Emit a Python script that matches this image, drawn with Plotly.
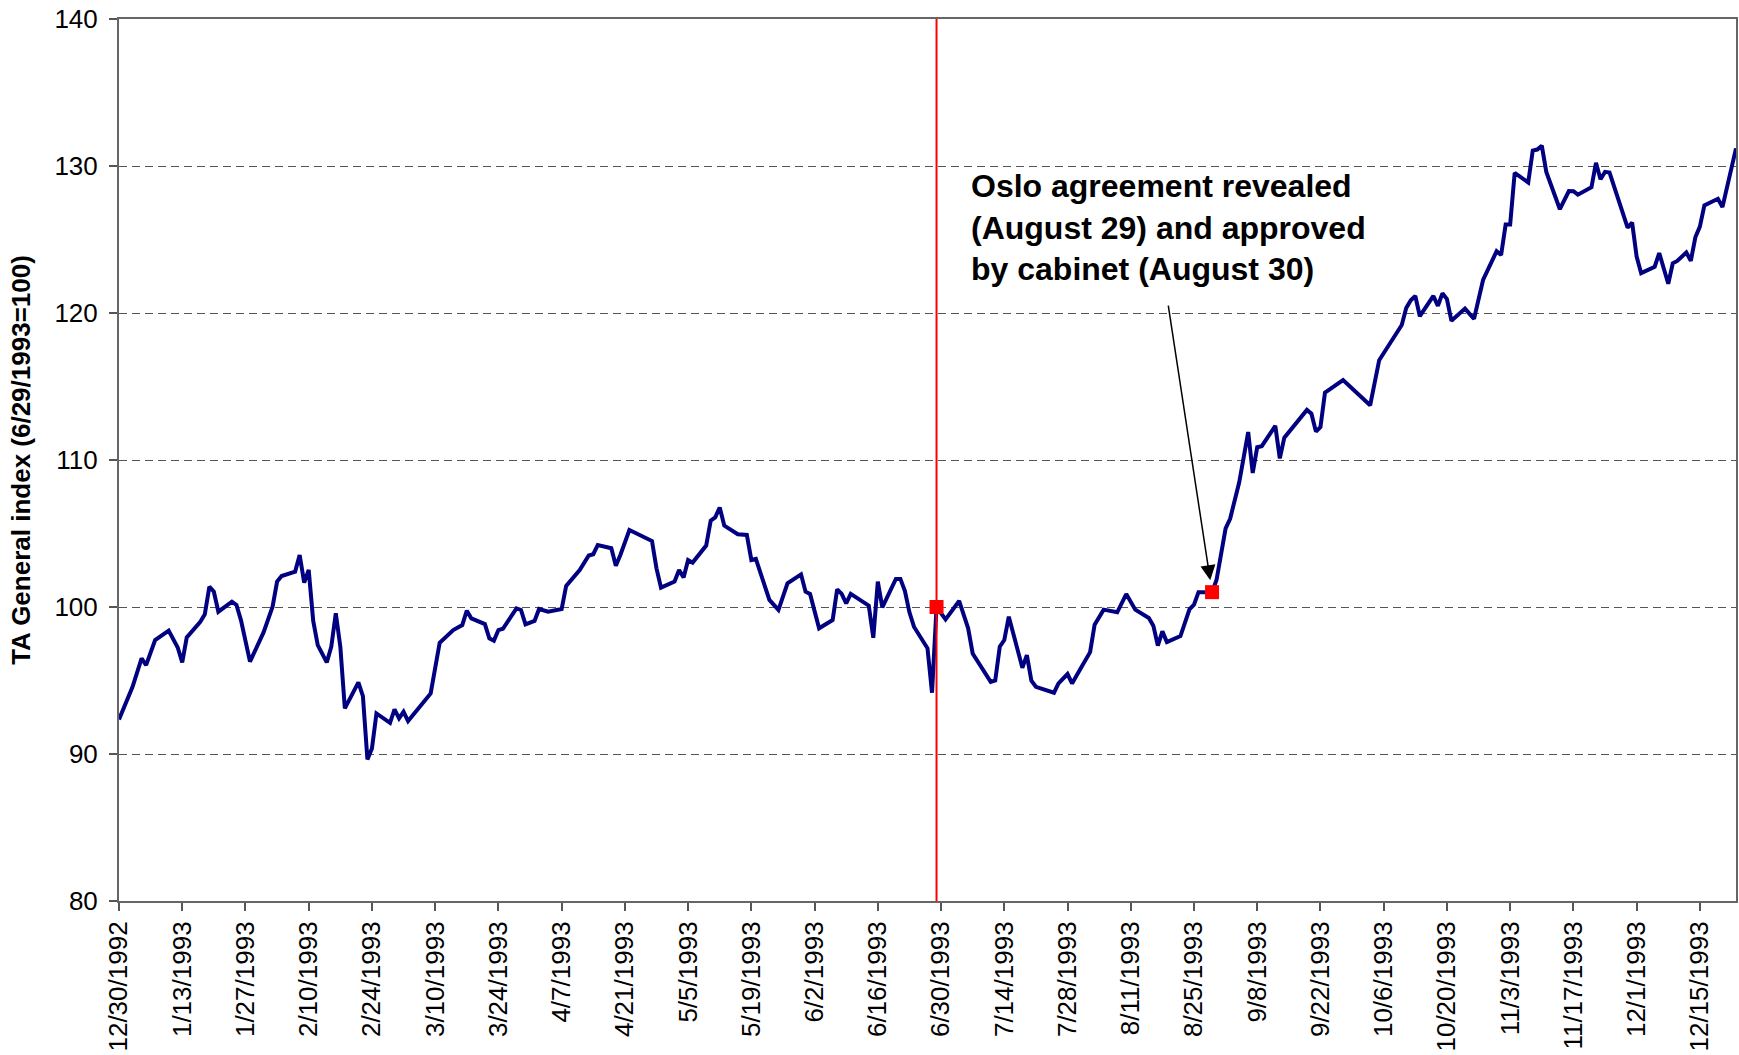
import plotly.graph_objects as go

# ---- data ----
dates = [
    "1992-12-30", "1993-01-02", "1993-01-04", "1993-01-05", "1993-01-07", "1993-01-10",
    "1993-01-12", "1993-01-13", "1993-01-14", "1993-01-17", "1993-01-18", "1993-01-19",
    "1993-01-20", "1993-01-21", "1993-01-24", "1993-01-25", "1993-01-26", "1993-01-28",
    "1993-01-31", "1993-02-02", "1993-02-03", "1993-02-04", "1993-02-07", "1993-02-08",
    "1993-02-09", "1993-02-10", "1993-02-11", "1993-02-12", "1993-02-14", "1993-02-15",
    "1993-02-16", "1993-02-17", "1993-02-18", "1993-02-21", "1993-02-22", "1993-02-23",
    "1993-02-24", "1993-02-25", "1993-02-28", "1993-03-01", "1993-03-02", "1993-03-03",
    "1993-03-04", "1993-03-09", "1993-03-11", "1993-03-14", "1993-03-16", "1993-03-17",
    "1993-03-18", "1993-03-21", "1993-03-22", "1993-03-23", "1993-03-24", "1993-03-25",
    "1993-03-28", "1993-03-29", "1993-03-30", "1993-04-01", "1993-04-02", "1993-04-04",
    "1993-04-07", "1993-04-08", "1993-04-11", "1993-04-13", "1993-04-14", "1993-04-15",
    "1993-04-18", "1993-04-19", "1993-04-20", "1993-04-22", "1993-04-27", "1993-04-28",
    "1993-04-29", "1993-05-02", "1993-05-03", "1993-05-04", "1993-05-05", "1993-05-06",
    "1993-05-09", "1993-05-10", "1993-05-11", "1993-05-12", "1993-05-13", "1993-05-16",
    "1993-05-18", "1993-05-19", "1993-05-20", "1993-05-23", "1993-05-25", "1993-05-27",
    "1993-05-30", "1993-05-31", "1993-06-01", "1993-06-02", "1993-06-03", "1993-06-06",
    "1993-06-07", "1993-06-08", "1993-06-09", "1993-06-10", "1993-06-14", "1993-06-15",
    "1993-06-16", "1993-06-17", "1993-06-20", "1993-06-21", "1993-06-22", "1993-06-23",
    "1993-06-24", "1993-06-27", "1993-06-28", "1993-06-29", "1993-07-01", "1993-07-04",
    "1993-07-06", "1993-07-07", "1993-07-11", "1993-07-12", "1993-07-13", "1993-07-14",
    "1993-07-15", "1993-07-18", "1993-07-19", "1993-07-20", "1993-07-21", "1993-07-25",
    "1993-07-26", "1993-07-28", "1993-07-29", "1993-07-31", "1993-08-02", "1993-08-03",
    "1993-08-05", "1993-08-08", "1993-08-10", "1993-08-12", "1993-08-15", "1993-08-16",
    "1993-08-17", "1993-08-18", "1993-08-19", "1993-08-22", "1993-08-24", "1993-08-25",
    "1993-08-26", "1993-08-28", "1993-08-29", "1993-08-30", "1993-09-01", "1993-09-02",
    "1993-09-04", "1993-09-06", "1993-09-07", "1993-09-08", "1993-09-09", "1993-09-12",
    "1993-09-13", "1993-09-14", "1993-09-19", "1993-09-20", "1993-09-21", "1993-09-22",
    "1993-09-23", "1993-09-27", "1993-10-03", "1993-10-05", "1993-10-10", "1993-10-11",
    "1993-10-12", "1993-10-13", "1993-10-14", "1993-10-17", "1993-10-18", "1993-10-19",
    "1993-10-20", "1993-10-21", "1993-10-24", "1993-10-26", "1993-10-27", "1993-10-28",
    "1993-10-31", "1993-11-01", "1993-11-02", "1993-11-03", "1993-11-04", "1993-11-07",
    "1993-11-08", "1993-11-09", "1993-11-10", "1993-11-11", "1993-11-14", "1993-11-16",
    "1993-11-17", "1993-11-18", "1993-11-21", "1993-11-22", "1993-11-23", "1993-11-24",
    "1993-11-25", "1993-11-29", "1993-11-30", "1993-12-01", "1993-12-02", "1993-12-05",
    "1993-12-06", "1993-12-08", "1993-12-09", "1993-12-10", "1993-12-12", "1993-12-13",
    "1993-12-14", "1993-12-15", "1993-12-16", "1993-12-19", "1993-12-20", "1993-12-22",
    "1993-12-23",
]

ta_index = [
    92.35, 94.57, 96.50, 96.05, 97.75, 98.39,
    97.25, 96.23, 97.93, 99.00, 99.50, 101.38,
    101.04, 99.68, 100.36, 100.14, 99.11, 96.28,
    98.27, 100.02, 101.73, 102.11, 102.41, 103.54,
    101.66, 102.52, 99.05, 97.41, 96.23, 97.30,
    99.57, 97.30, 93.10, 94.87, 93.94, 89.63,
    90.37, 92.76, 92.12, 93.03, 92.42, 92.87,
    92.24, 94.12, 97.57, 98.43, 98.77, 99.75,
    99.23, 98.84, 97.87, 97.71, 98.43, 98.52,
    99.91, 99.80, 98.82, 99.05, 99.86, 99.68,
    99.86, 101.43, 102.52, 103.50, 103.59, 104.22,
    104.00, 102.81, 103.54, 105.24, 104.49, 102.63,
    101.32, 101.73, 102.52, 102.00, 103.20, 103.02,
    104.18, 105.88, 106.10, 106.77, 105.54, 104.95,
    104.90, 103.20, 103.27, 100.48, 99.80, 101.61,
    102.22, 101.04, 100.89, 99.57, 98.55, 99.11,
    101.20, 100.89, 100.25, 100.89, 100.09, 97.91,
    101.73, 99.98, 101.91, 101.91, 101.09, 99.64,
    98.66, 97.19, 94.17, 100.00, 99.16, 100.41,
    98.55, 96.84, 94.91, 95.00, 97.30, 97.75,
    99.34, 95.87, 96.73, 94.98, 94.57, 94.17,
    94.80, 95.44, 94.80, 95.87, 96.93, 98.80,
    99.82, 99.64, 100.88, 99.82, 99.25, 98.73,
    97.37, 98.34, 97.61, 98.02, 99.84, 100.16,
    101.01, 101.01, 101.01, 101.85, 105.35, 106.00,
    108.47, 111.90, 109.12, 110.87, 110.94, 112.32,
    110.11, 111.52, 113.41, 113.15, 111.93, 112.24,
    114.58, 115.44, 113.72, 116.79, 119.18, 120.35,
    120.87, 121.16, 119.78, 121.16, 120.48, 121.34,
    120.95, 119.47, 120.30, 119.60, 121.08, 122.25,
    124.20, 123.94, 126.02, 126.02, 129.53, 128.88,
    131.05, 131.12, 131.38, 129.60, 127.06, 128.30,
    128.29, 128.05, 128.55, 130.22, 129.10, 129.60,
    129.55, 125.80, 126.15, 123.84, 122.71, 123.15,
    124.08, 121.99, 123.38, 123.54, 124.12, 123.55,
    125.15, 125.88, 127.32, 127.77, 127.20, 129.90,
    131.20,
]

tick_dates = [
    "1992-12-30", "1993-01-13", "1993-01-27", "1993-02-10", "1993-02-24", "1993-03-10",
    "1993-03-24", "1993-04-07", "1993-04-21", "1993-05-05", "1993-05-19", "1993-06-02",
    "1993-06-16", "1993-06-30", "1993-07-14", "1993-07-28", "1993-08-11", "1993-08-25",
    "1993-09-08", "1993-09-22", "1993-10-06", "1993-10-20", "1993-11-03", "1993-11-17",
    "1993-12-01", "1993-12-15",
]
tick_labels = [
    "12/30/1992", "1/13/1993", "1/27/1993", "2/10/1993", "2/24/1993", "3/10/1993",
    "3/24/1993", "4/7/1993", "4/21/1993", "5/5/1993", "5/19/1993", "6/2/1993",
    "6/16/1993", "6/30/1993", "7/14/1993", "7/28/1993", "8/11/1993", "8/25/1993",
    "9/8/1993", "9/22/1993", "10/6/1993", "10/20/1993", "11/3/1993", "11/17/1993",
    "12/1/1993", "12/15/1993",
]
y_ticks = [80, 90, 100, 110, 120, 130, 140]
x_range = ["1992-12-30", "1993-12-23"]

base_date = "1993-06-29"   # index base date (red vertical line)
oslo_date = "1993-08-29"   # Oslo agreement revealed
event_dates = [base_date, oslo_date]
event_values = [ta_index[dates.index(d)] for d in event_dates]

y_title = "TA General index (6/29/1993=100)"
note_text = "Oslo agreement revealed<br>(August 29) and approved<br>by cabinet (August 30)"

FONT = "Liberation Sans, Arial, Helvetica, sans-serif"

fig = go.Figure()
fig.add_trace(go.Scatter(
    x=dates, y=ta_index, mode="lines",
    line=dict(color="#000080", width=4),
    showlegend=False, hoverinfo="x+y",
))
fig.add_trace(go.Scatter(
    x=event_dates, y=event_values, mode="markers",
    marker=dict(symbol="square", size=14, color="#FF0000", line=dict(width=0)),
    showlegend=False,
))

fig.add_shape(type="line", xref="x", yref="paper",
              x0=base_date, x1=base_date, y0=0, y1=1,
              line=dict(color="#FF0000", width=2), layer="above")

# arrow pointing at the Oslo marker
fig.add_annotation(x=oslo_date, y=event_values[1], xref="x", yref="y",
                   text="", showarrow=True, ax=-44, ay=-288,
                   arrowhead=2, arrowsize=2, arrowwidth=1.5,
                   arrowcolor="black", standoff=12)
# text of the annotation
fig.add_annotation(xref="paper", yref="paper", x=0.5255, y=0.833,
                   xanchor="left", yanchor="top", align="left",
                   text=note_text, showarrow=False,
                   font=dict(family=FONT, size=32, color="black", weight="bold"))

fig.update_layout(
    width=1739, height=1055,
    margin=dict(l=119, r=1, t=19, b=154, pad=0),
    paper_bgcolor="white", plot_bgcolor="white",
    font=dict(family=FONT, size=26, color="black"),
    showlegend=False,
)
fig.update_xaxes(
    type="date", range=x_range,
    tickmode="array", tickvals=tick_dates, ticktext=tick_labels,
    tickangle=-90, ticks="outside", ticklen=8, tickwidth=1.5, tickcolor="#555555",
    showline=True, linecolor="#666666", linewidth=2, mirror=True,
    showgrid=False, zeroline=False,
    tickfont=dict(family=FONT, size=26, color="black"),
)
fig.update_yaxes(
    range=[80, 140], tickmode="array", tickvals=y_ticks,
    ticks="outside", ticklen=8, tickwidth=1.5, tickcolor="#555555",
    ticklabelstandoff=6,
    showline=True, linecolor="#666666", linewidth=2, mirror=True,
    showgrid=True, gridcolor="#555555", gridwidth=1.2, griddash="8px,5px",
    zeroline=False,
    tickfont=dict(family=FONT, size=26, color="black"),
    title=dict(text=y_title, standoff=16,
               font=dict(family=FONT, size=26, color="black", weight="bold")),
)

fig.write_html("out.html", config={"displayModeBar": False},
               post_script="document.body.style.margin='0';")
